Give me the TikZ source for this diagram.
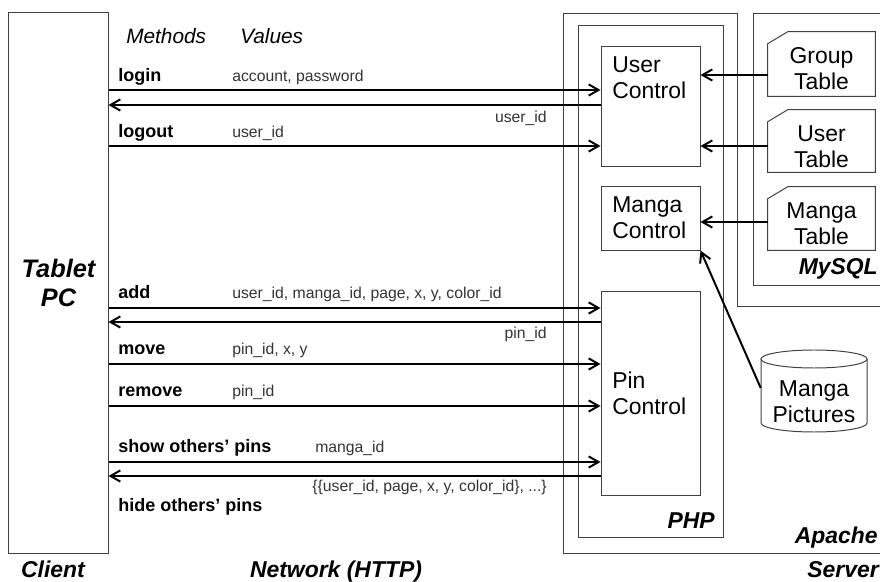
\documentclass[tikz,border=0pt]{standalone}
\usepackage{fontspec}
\setmainfont{Liberation Sans}
\usetikzlibrary{arrows.meta}

\begin{document}
\begin{tikzpicture}[x=0.025cm, y=-0.025cm,
        box/.style = {draw=black!75, line width=0.7pt},
        link/.style = {line width=1.4pt, -{Straight Barb[length=7pt,width=8pt]}},
        big/.style = {font=\fontsize{16.3}{18.4}\selectfont, align=left, inner sep=0pt},
        tag/.style = {font=\fontsize{16.3}{19}\selectfont\bfseries\itshape, inner sep=0pt},
        head/.style = {font=\fontsize{14.8}{17}\selectfont\itshape, anchor=base west, inner sep=0pt},
        meth/.style = {font=\fontsize{12.8}{15}\selectfont\bfseries, anchor=base west, inner sep=0pt},
        val/.style = {font=\fontsize{11.2}{13}\selectfont, text=black!80, anchor=base west, inner sep=0pt},
        ctrl/.style = {box, minimum width=2.475cm, inner sep=0pt},
        tbl/.style = {minimum width=2.675cm, inner sep=0pt}]

        \useasboundingbox (0,0) rectangle (880,582);

        \node[box, minimum width=2.475cm, minimum height=13.5cm, align=center,
              font=\fontsize{18}{20.6}\selectfont\bfseries\itshape] (client) at (58.5,283) {Tablet\\PC};

        \draw[box] (880,306) -- (737,306) -- (737,13) -- (563,13) -- (563,553) -- (880,553);
        \draw[box] (578,25) rectangle (723,537);
        \draw[box] (880,13) -- (753,13) -- (753,285) -- (880,285);

        \node[ctrl, minimum height=2.975cm] (uc) at (650.5,106.5) {};
        \node[ctrl, minimum height=1.575cm] (mc) at (650.5,218.5) {};
        \node[ctrl, minimum height=5.075cm] (pc) at (650.5,393.5) {};
        \node[big, anchor=west] (uctext) at (612,77.5) {User\\Control};
        \node[big, anchor=west] (mctext) at (612,217.5) {Manga\\Control};
        \node[big, anchor=west] (pctext) at (612,393) {Pin\\Control};

        \node[tbl, minimum height=1.6cm] (gt) at (821.5,64) {};
        \node[tbl, minimum height=1.55cm] (ut) at (821.5,141) {};
        \node[tbl, minimum height=1.575cm] (mt) at (821.5,218.5) {};
        \draw[box] (gt.north west) ++(0,12) -- ++(20,-12) -- (gt.north east) -- (gt.south east) -- (gt.south west) -- cycle;
        \draw[box] (ut.north west) ++(0,12) -- ++(20,-12) -- (ut.north east) -- (ut.south east) -- (ut.south west) -- cycle;
        \draw[box] (mt.north west) ++(0,12) -- ++(20,-12) -- (mt.north east) -- (mt.south east) -- (mt.south west) -- cycle;
        \node[big, align=center] (gttext) at (821.5,69) {Group\\Table};
        \node[big, align=center] (uttext) at (821.5,147) {User\\Table};
        \node[big, align=center] (mttext) at (821.5,223.5) {Manga\\Table};

        \draw[box] (761,359) -- (761,423) arc[start angle=180, end angle=360, x radius=1.325cm, y radius=0.225cm] -- (867,359);
        \draw[box] (814,359) ellipse [x radius=1.325cm, y radius=0.225cm];
        \node[big, align=center, minimum width=2.65cm] (mp) at (814,402) {Manga\\Pictures};

        \node[head] (methods) at (126,44) {Methods};
        \node[head] (values) at (240,44) {Values};

        \node[meth] (login) at (118,82) {login};
        \node[val] (loginv) at (232,82) {account, password};
        \node[val, anchor=base east] (loginr) at (547,123) {user\_id};
        \node[meth] (logout) at (118,138) {logout};
        \node[val] (logoutv) at (232,138) {user\_id};
        \node[meth] (add) at (118,299) {add};
        \node[val] (addv) at (232,299) {user\_id, manga\_id, page, x, y, color\_id};
        \node[val, anchor=base east] (addr) at (547,339) {pin\_id};
        \node[meth] (move) at (118,355) {move};
        \node[val] (movev) at (232,355) {pin\_id, x, y};
        \node[meth] (remove) at (118,397) {remove};
        \node[val] (removev) at (232,397) {pin\_id};
        \node[meth] (show) at (118,452) {show others’ pins};
        \node[val] (showv) at (315,453) {manga\_id};
        \node[val, anchor=base east] (showr) at (547,491) {\{\{user\_id, page, x, y, color\_id\}, ...\}};
        \node[meth] (hide) at (118,511) {hide others’ pins};

        \draw[link] (client.east |- 0,90) -- (uc.west |- 0,90);
        \draw[link] (uc.west |- 0,105) -- (client.east |- 0,105);
        \draw[link] (client.east |- 0,146) -- (uc.west |- 0,146);
        \draw[link] (client.east |- 0,308) -- (pc.west |- 0,308);
        \draw[link] (pc.west |- 0,322) -- (client.east |- 0,322);
        \draw[link] (client.east |- 0,364) -- (pc.west |- 0,364);
        \draw[link] (client.east |- 0,406) -- (pc.west |- 0,406);
        \draw[link] (client.east |- 0,462) -- (pc.west |- 0,462);
        \draw[link] (pc.west |- 0,476) -- (client.east |- 0,476);

        \draw[link] (gt.west |- 0,75) -- (uc.east |- 0,75);
        \draw[link] (ut.west |- 0,146) -- (uc.east |- 0,146);
        \draw[link] (mt.west |- 0,222) -- (mc.east |- 0,222);
        \draw[link] (mp.west |- 0,388) -- (mc.south east);

        \node[tag, anchor=base] (clientlbl) at (53,577) {Client};
        \node[tag, anchor=base] (netlbl) at (336,577) {Network (HTTP)};
        \node[tag, anchor=base east] (serverlbl) at (879,577) {Server};
        \node[tag, anchor=base east] (apachelbl) at (878,543) {Apache};
        \node[tag, anchor=base east] (phplbl) at (715,528) {PHP};
        \node[tag, anchor=base east] (mysqllbl) at (878,275) {MySQL};
\end{tikzpicture}
\end{document}
